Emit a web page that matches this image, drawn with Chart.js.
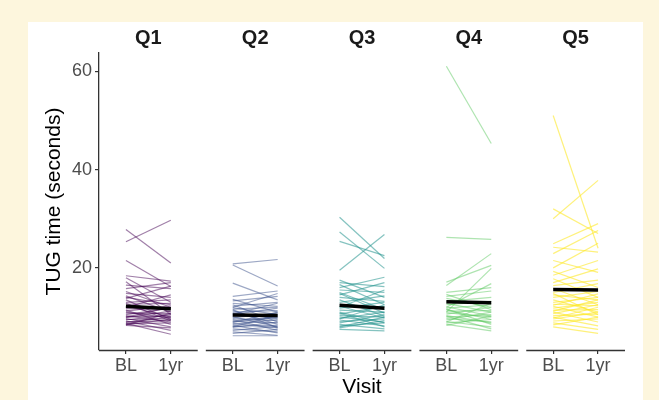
<!DOCTYPE html>
<html>
<head>
<meta charset="utf-8">
<script src="https://cdn.jsdelivr.net/npm/chart.js@4.4.1/dist/chart.umd.min.js"></script>
<style>
  body { margin: 0; background: #fdf6dd; width: 659px; height: 400px; overflow: hidden; position: relative; }
  #panel { position: absolute; left: 28px; top: 22px; width: 615px; height: 378px; background: #fff; }
  #tug { position: absolute; left: 0; top: 0; }
</style>
</head>
<body>
<div id="panel"></div>
<canvas id="tug" width="659" height="400"></canvas>
<script>
const facets = ["Q1", "Q2", "Q3", "Q4", "Q5"];
const visitLabels = ["BL", "1yr"];
const yTicks = [20, 40, 60];

// TUG time per subject, baseline and 1 year
const q1BL = [25.3, 27.8, 21.5, 18.4, 18.0, 17.2, 16.5, 15.8, 15.2, 14.8, 14.3, 13.8, 13.5, 13.0, 12.6, 12.3, 12.0, 11.7, 11.4, 11.2,
  11.0, 10.8, 10.5, 10.3, 10.1, 9.9, 9.7, 9.5, 9.4, 9.2, 9.0, 8.9, 8.7, 8.6, 8.5, 8.4, 8.3, 12.8, 14.0, 10.0];
const q1Yr = [29.7, 21.0, 16.2, 17.3, 13.0, 10.5, 15.8, 17.0, 12.0, 14.0, 11.0, 16.3, 9.5, 13.5, 12.8, 10.0, 14.5, 11.5, 8.5, 12.3,
  9.8, 10.7, 11.8, 9.0, 10.2, 11.2, 8.0, 9.6, 10.5, 7.3, 9.3, 10.0, 6.5, 8.8, 9.5, 10.8, 7.8, 9.2, 12.5, 12.0];

const q2BL = [20.8, 20.6, 16.9, 14.2, 13.6, 13.3, 12.8, 12.5, 12.2, 11.9, 11.6, 11.3, 11.0, 10.8, 10.5, 10.3, 10.1, 9.9, 9.7,
  9.5, 9.3, 9.1, 8.9, 8.7, 8.5, 8.3, 8.1, 7.9, 7.6, 7.3, 7.0, 6.7, 6.2, 12.0, 10.6, 9.0, 11.5, 8.0];
const q2Yr = [21.7, 16.3, 13.5, 15.3, 11.0, 14.2, 12.2, 9.0, 13.0, 10.5, 12.0, 8.5, 11.3, 9.7, 11.8, 10.2, 8.0, 10.8, 9.3,
  7.3, 10.0, 8.8, 11.0, 7.8, 9.5, 6.8, 8.3, 9.0, 7.0, 8.1, 6.3, 7.5, 6.2, 14.8, 12.8, 9.9, 7.8, 10.4];

const q3BL = [30.3, 27.3, 25.4, 19.5, 17.5, 17.0, 16.6, 16.0, 15.5, 15.0, 14.5, 14.0, 13.5, 13.0, 12.6, 12.2, 11.8, 11.4,
  11.0, 10.6, 10.3, 10.0, 9.7, 9.4, 9.1, 8.8, 8.5, 8.2, 7.8, 7.5, 12.0, 10.8, 9.6, 14.8, 8.0];
const q3Yr = [21.9, 19.9, 22.5, 26.8, 14.0, 16.2, 12.5, 18.1, 15.0, 11.5, 17.0, 13.2, 10.2, 14.3, 12.0, 9.8, 13.0, 11.0,
  8.8, 12.2, 10.0, 9.0, 11.0, 8.2, 9.6, 10.5, 7.6, 8.8, 9.3, 7.2, 15.5, 8.0, 12.5, 10.8, 10.0];

const q4BL = [61.0, 26.2, 16.4, 17.1, 11.0, 15.0, 14.2, 13.8, 13.2, 12.8, 12.5, 12.1, 11.8, 11.5, 11.2, 10.9, 10.6, 10.3,
  10.0, 9.7, 9.4, 9.1, 8.8, 8.5, 8.3, 12.0, 10.2, 14.6, 9.0, 11.6];
const q4Yr = [45.3, 25.8, 22.9, 20.5, 19.9, 16.0, 15.3, 12.0, 14.0, 11.0, 13.2, 10.2, 12.5, 9.5, 11.3, 10.0, 12.0, 8.8,
  10.5, 9.0, 11.0, 8.0, 9.5, 7.2, 10.2, 16.8, 7.6, 11.5, 12.8, 8.5];

const q5BL = [51.0, 30.0, 32.0, 24.9, 24.2, 22.9, 21.5, 20.0, 19.3, 18.5, 17.8, 17.0, 16.4, 15.8, 15.0, 14.5, 14.0, 13.5,
  13.0, 12.6, 12.2, 11.8, 11.4, 11.0, 10.7, 10.3, 10.0, 9.6, 9.2, 8.8, 8.4, 8.0, 12.4, 9.8, 14.8, 11.2];
const q5Yr = [24.0, 37.8, 27.0, 29.0, 23.2, 27.6, 19.1, 25.0, 16.0, 21.5, 14.0, 19.8, 17.5, 12.5, 16.8, 13.5, 15.2, 11.0,
  14.0, 12.3, 10.0, 13.0, 11.5, 9.0, 12.5, 10.6, 8.2, 11.0, 9.6, 7.5, 10.0, 6.7, 14.7, 12.0, 10.5, 13.5];

// group means (thick black lines)
const meanBL = [12.2, 10.4, 12.4, 13.1, 15.6];
const meanYr = [11.7, 10.3, 11.8, 12.9, 15.5];

const facetColors = [
  "rgba(68, 1, 84, 0.5)",
  "rgba(59, 82, 139, 0.5)",
  "rgba(33, 145, 140, 0.55)",
  "rgba(94, 201, 98, 0.5)",
  "rgba(253, 231, 37, 0.6)",
];

const allBL = [q1BL, q2BL, q3BL, q4BL, q5BL];
const allYr = [q1Yr, q2Yr, q3Yr, q4Yr, q5Yr];

// each facet takes 2.2 units on the x scale (discrete 0.6 expansion), gap between facets
const FACET_W = 2.2;
const FACET_STEP = 2.38;
const facetStart = (k) => k * FACET_STEP;
const tickPositions = [];
facets.forEach((f, k) => {
  tickPositions.push(facetStart(k) + 0.6, facetStart(k) + 1.6);
});

const datasets = [];
facets.forEach((f, k) => {
  datasets.push({
    label: f + " mean",
    data: [{ x: facetStart(k) + 0.6, y: meanBL[k] }, { x: facetStart(k) + 1.6, y: meanYr[k] }],
    borderColor: "#000",
    borderWidth: 3.5,
    order: 0,
  });
  allBL[k].forEach((bl, i) => {
    datasets.push({
      label: f,
      data: [{ x: facetStart(k) + 0.6, y: bl }, { x: facetStart(k) + 1.6, y: allYr[k][i] }],
      borderColor: facetColors[k],
      borderWidth: 1.2,
      order: 1,
    });
  });
});

const FONT = "'Liberation Sans', Arial, sans-serif";

const facetDecor = {
  id: "facetDecor",
  afterDraw(chart) {
    const c = chart.ctx;
    const xs = chart.scales.x;
    const bottom = chart.chartArea.bottom;
    c.save();
    facets.forEach((f, k) => {
      const x0 = xs.getPixelForValue(facetStart(k));
      const x1 = xs.getPixelForValue(facetStart(k) + FACET_W);
      c.strokeStyle = "#333";
      c.lineWidth = 1.3;
      c.beginPath();
      c.moveTo(x0, bottom + 0.5);
      c.lineTo(x1, bottom + 0.5);
      c.stroke();
      c.fillStyle = "#1a1a1a";
      c.font = "bold 20px " + FONT;
      c.textAlign = "center";
      c.textBaseline = "middle";
      c.fillText(f, (x0 + x1) / 2, 38);
    });
    c.restore();
  },
};

new Chart(document.getElementById("tug").getContext("2d"), {
  type: "line",
  data: { datasets },
  options: {
    responsive: false,
    animation: false,
    layout: { padding: { top: 53, right: 34, left: 0, bottom: 0 } },
    elements: { point: { radius: 0 }, line: { tension: 0 } },
    plugins: { legend: { display: false }, tooltip: { enabled: false } },
    scales: {
      x: {
        type: "linear",
        min: 0,
        max: 4 * FACET_STEP + FACET_W,
        afterBuildTicks: (scale) => { scale.ticks = tickPositions.map((v) => ({ value: v })); },
        afterFit: (scale) => { scale.height = 50; },
        ticks: {
          autoSkip: false,
          maxRotation: 0,
          padding: 1,
          color: "#4d4d4d",
          font: { family: FONT, size: 18 },
          callback: (v, i) => visitLabels[i % 2],
        },
        grid: { drawOnChartArea: false, drawTicks: true, tickLength: 4, color: "#333", lineWidth: 1.2 },
        border: { display: false },
        title: { display: true, text: "Visit", color: "#000", font: { family: FONT, size: 21 }, padding: { top: 0, bottom: 0 } },
      },
      y: {
        min: 3.3,
        max: 63.7,
        afterBuildTicks: (scale) => { scale.ticks = yTicks.map((v) => ({ value: v })); },
        afterFit: (scale) => { scale.width = 99; },
        ticks: { padding: 3, color: "#4d4d4d", font: { family: FONT, size: 18 } },
        grid: { drawOnChartArea: false, drawTicks: true, tickLength: 4, color: "#333", lineWidth: 1.2 },
        border: { display: true, color: "#333", width: 1.3 },
        title: { display: true, text: "TUG time (seconds)", color: "#000", font: { family: FONT, size: 21 }, padding: { top: 42, bottom: 0 } },
      },
    },
  },
  plugins: [facetDecor],
});
</script>
</body>
</html>
